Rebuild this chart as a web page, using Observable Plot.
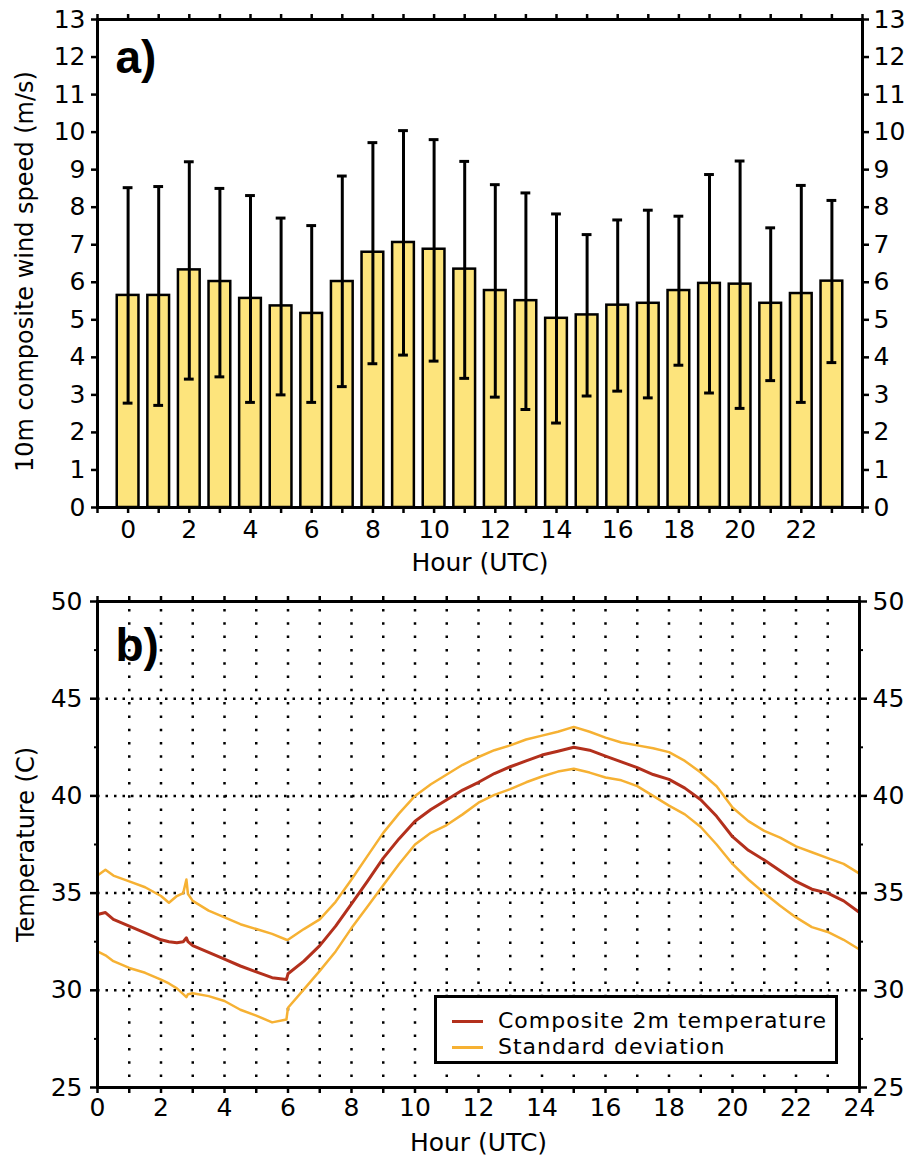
<!DOCTYPE html>
<html><head><meta charset="utf-8">
<script src="https://cdn.jsdelivr.net/npm/d3@7"></script>
<script src="https://cdn.jsdelivr.net/npm/@observablehq/plot@0.6"></script>
<style>
body{margin:0;background:#fff;}
#wrap{position:relative;width:910px;height:1158px;font-family:"DejaVu Sans";}
#wrap svg{display:block;}
.legend{position:absolute;left:434px;top:995px;width:398px;height:63px;border:3px solid #000;background:#fff;font-family:"DejaVu Sans";font-size:22px;letter-spacing:1px;color:#000;}
.legend .row{position:absolute;left:0;height:26px;line-height:26px;white-space:nowrap;}
.legend .sw{position:absolute;left:15px;top:11.5px;width:31px;height:3px;}
.legend .lbl{position:absolute;left:61px;top:0;}
</style></head><body><div id="wrap"></div>
<script>
// ---- Panel a: hourly composite 10 m wind speed ----
const windHours = d3.range(0, 24);
const windMean  = [5.65,5.65,6.33,6.02,5.57,5.37,5.17,6.02,6.80,7.06,6.88,6.35,5.78,5.51,5.04,5.13,5.39,5.44,5.78,5.97,5.95,5.44,5.70,6.03];
const windUpper = [8.52,8.55,9.21,8.50,8.31,7.71,7.51,8.83,9.72,10.04,9.80,9.22,8.60,8.38,7.82,7.27,7.66,7.92,7.76,8.87,9.23,7.45,8.58,8.18];
const windLower = [2.78,2.72,3.42,3.48,2.80,3.00,2.80,3.22,3.83,4.06,3.90,3.44,2.94,2.61,2.25,2.97,3.10,2.92,3.79,3.05,2.64,3.38,2.80,3.86];
const windYTicks = d3.range(0, 14);
const windXTicks = d3.range(-1, 25);

// ---- Panel b: composite 2 m temperature ----
const tempHours = [0,0.25,0.5,1,1.5,2,2.25,2.5,2.7,2.8,2.85,3,3.5,4,4.5,5,5.5,5.95,6,6.5,7,7.5,8,8.5,9,9.5,10,10.5,11,11.5,12,12.5,13,13.5,14,14.5,15,15.5,16,16.5,17,17.5,18,18.5,19,19.5,20,20.5,21,21.5,22,22.5,23,23.5,24];
const tempMean  = [33.9,34.0,33.65,33.3,32.95,32.6,32.5,32.45,32.5,32.7,32.5,32.3,31.95,31.6,31.25,30.95,30.65,30.55,30.85,31.5,32.3,33.3,34.45,35.6,36.8,37.8,38.7,39.3,39.8,40.3,40.7,41.15,41.5,41.8,42.1,42.3,42.5,42.35,42.05,41.75,41.45,41.1,40.85,40.4,39.8,38.95,37.9,37.2,36.7,36.15,35.6,35.2,35.0,34.6,34.0];
const tempUpper = [35.9,36.2,35.9,35.6,35.3,34.85,34.5,34.85,35.0,35.7,34.95,34.6,34.1,33.75,33.4,33.15,32.9,32.6,32.6,33.15,33.65,34.55,35.7,36.9,38.1,39.1,40.0,40.6,41.1,41.6,42.0,42.35,42.6,42.9,43.1,43.3,43.55,43.3,43.0,42.75,42.6,42.45,42.25,41.8,41.2,40.5,39.4,38.7,38.2,37.85,37.4,37.1,36.8,36.5,36.0];
const tempLower = [32.0,31.8,31.5,31.15,30.9,30.55,30.35,30.1,29.8,29.65,29.8,29.85,29.7,29.45,29.0,28.7,28.35,28.5,29.1,30.05,31.0,32.0,33.2,34.3,35.4,36.5,37.5,38.1,38.5,39.05,39.65,40.05,40.35,40.7,41.0,41.25,41.4,41.2,40.95,40.8,40.5,40.0,39.5,39.05,38.4,37.5,36.5,35.7,35.0,34.35,33.75,33.25,33.0,32.6,32.1];
const tempYTicks = [25,30,35,40,45,50];
const tempYMinor = [27.5,32.5,37.5,42.5,47.5];
const tempXTicks = d3.range(0, 25);
const tempGridX = d3.range(1, 24);
const tempGridY = [30,35,40,45];

const meanColor = "#b3301c";
const sdColor = "#f6b133";
const barColor = "#fde47c";

const windData = windHours.map((h, i) => ({hour: h, mean: windMean[i], upper: windUpper[i], lower: windLower[i]}));
const tempData = tempHours.map((h, i) => ({hour: h, mean: tempMean[i], upper: tempUpper[i], lower: tempLower[i]}));

const baseStyle = {fontFamily: "DejaVu Sans", fontSize: "25px", color: "#000", background: "#fff", overflow: "visible"};

const chartA = Plot.plot({
  width: 910, height: 580,
  marginLeft: 97, marginRight: 48, marginTop: 19, marginBottom: 73,
  style: baseStyle,
  x: {domain: [-1, 24]},
  y: {domain: [0, 13]},
  marks: [
    Plot.rectY(windData, {x1: d => d.hour - 0.355, x2: d => d.hour + 0.355, y1: 0, y2: "mean", fill: barColor, stroke: "#000", strokeWidth: 2.5}),
    Plot.ruleX(windData, {x: "hour", y1: "lower", y2: "upper", stroke: "#000", strokeWidth: 3}),
    Plot.ruleY(windData, {y: "upper", x1: d => d.hour - 0.16, x2: d => d.hour + 0.16, stroke: "#000", strokeWidth: 3}),
    Plot.ruleY(windData, {y: "lower", x1: d => d.hour - 0.16, x2: d => d.hour + 0.16, stroke: "#000", strokeWidth: 3}),
    Plot.frame({stroke: "#000", strokeWidth: 3}),
    Plot.axisY(windYTicks, {anchor: "left", tickSize: 6, tickPadding: 6, strokeWidth: 2.5, label: null}),
    Plot.axisY(windYTicks, {anchor: "right", tickSize: 6, tickPadding: 5, strokeWidth: 2.5, label: null}),
    Plot.axisX(windXTicks, {anchor: "bottom", tickSize: 6, tickPadding: 7, strokeWidth: 2.5, label: null,
      tickFormat: d => (d >= 0 && d < 24 && d % 2 === 0) ? String(d) : ""}),
    Plot.axisX(windXTicks, {anchor: "top", tickSize: 6, strokeWidth: 2.5, label: null, tickFormat: () => ""}),
    Plot.text(["Hour (UTC)"], {frameAnchor: "bottom", dy: 55, text: d => d, fontSize: 25, lineAnchor: "middle"}),
    Plot.text(["10m composite wind speed (m/s)"], {frameAnchor: "left", dx: -72, dy: 8, rotate: -90, text: d => d,
      fontSize: 24, textAnchor: "middle", lineAnchor: "middle"}),
    Plot.text(["a)"], {frameAnchor: "top-left", dx: 18, dy: 53, text: d => d, textAnchor: "start", lineAnchor: "bottom",
      fontSize: 46, fontWeight: "bold", fontFamily: "Liberation Sans"})
  ]
});

const chartB = Plot.plot({
  width: 910, height: 578,
  marginLeft: 97, marginRight: 51, marginTop: 21, marginBottom: 71,
  style: baseStyle,
  x: {domain: [0, 24]},
  y: {domain: [25, 50]},
  marks: [
    Plot.ruleX(tempGridX, {stroke: "#000", strokeWidth: 2.5, strokeDasharray: "2.5,10.8", strokeDashoffset: -8}),
    Plot.ruleY(tempGridY, {stroke: "#000", strokeWidth: 2.5, strokeDasharray: "2.5,6"}),
    Plot.line(tempData, {x: "hour", y: "upper", stroke: sdColor, strokeWidth: 2.5}),
    Plot.line(tempData, {x: "hour", y: "lower", stroke: sdColor, strokeWidth: 2.5}),
    Plot.line(tempData, {x: "hour", y: "mean", stroke: meanColor, strokeWidth: 3}),
    Plot.frame({stroke: "#000", strokeWidth: 3}),
    Plot.axisY(tempYTicks, {anchor: "left", tickSize: 7, tickPadding: 8, strokeWidth: 2.5, label: null}),
    Plot.axisY(tempYTicks, {anchor: "right", tickSize: 7, tickPadding: 6, strokeWidth: 2.5, label: null}),
    Plot.axisY(tempYMinor, {anchor: "left", tickSize: 3, strokeWidth: 2, label: null, tickFormat: () => ""}),
    Plot.axisY(tempYMinor, {anchor: "right", tickSize: 3, strokeWidth: 2, label: null, tickFormat: () => ""}),
    Plot.axisX(tempXTicks, {anchor: "bottom", tickSize: 6, tickPadding: 5, strokeWidth: 2.5, label: null,
      tickFormat: d => d % 2 === 0 ? String(d) : ""}),
    Plot.axisX(tempXTicks, {anchor: "top", tickSize: 6, strokeWidth: 2.5, label: null, tickFormat: () => ""}),
    Plot.text(["Hour (UTC)"], {frameAnchor: "bottom", dy: 55, text: d => d, fontSize: 25, lineAnchor: "middle"}),
    Plot.text(["Temperature (C)"], {frameAnchor: "left", dx: -71, rotate: -90, text: d => d,
      fontSize: 24, textAnchor: "middle", lineAnchor: "middle"}),
    Plot.text(["b)"], {frameAnchor: "top-left", dx: 18, dy: 59, text: d => d, textAnchor: "start", lineAnchor: "bottom",
      fontSize: 46, fontWeight: "bold", fontFamily: "Liberation Sans"})
  ]
});

const wrap = document.getElementById("wrap");
wrap.appendChild(chartA);
wrap.appendChild(chartB);

// Legend for panel b
const legendItems = [
  {label: "Composite 2m temperature", color: meanColor},
  {label: "Standard deviation", color: sdColor}
];
const legend = document.createElement("div");
legend.className = "legend";
legendItems.forEach((item, i) => {
  const row = document.createElement("div");
  row.className = "row";
  row.style.top = (10 + i * 26) + "px";
  row.style.width = "100%";
  const sw = document.createElement("span");
  sw.className = "sw";
  sw.style.background = item.color;
  const lbl = document.createElement("span");
  lbl.className = "lbl";
  lbl.textContent = item.label;
  row.appendChild(sw);
  row.appendChild(lbl);
  legend.appendChild(row);
});
wrap.appendChild(legend);
</script>
</body></html>
